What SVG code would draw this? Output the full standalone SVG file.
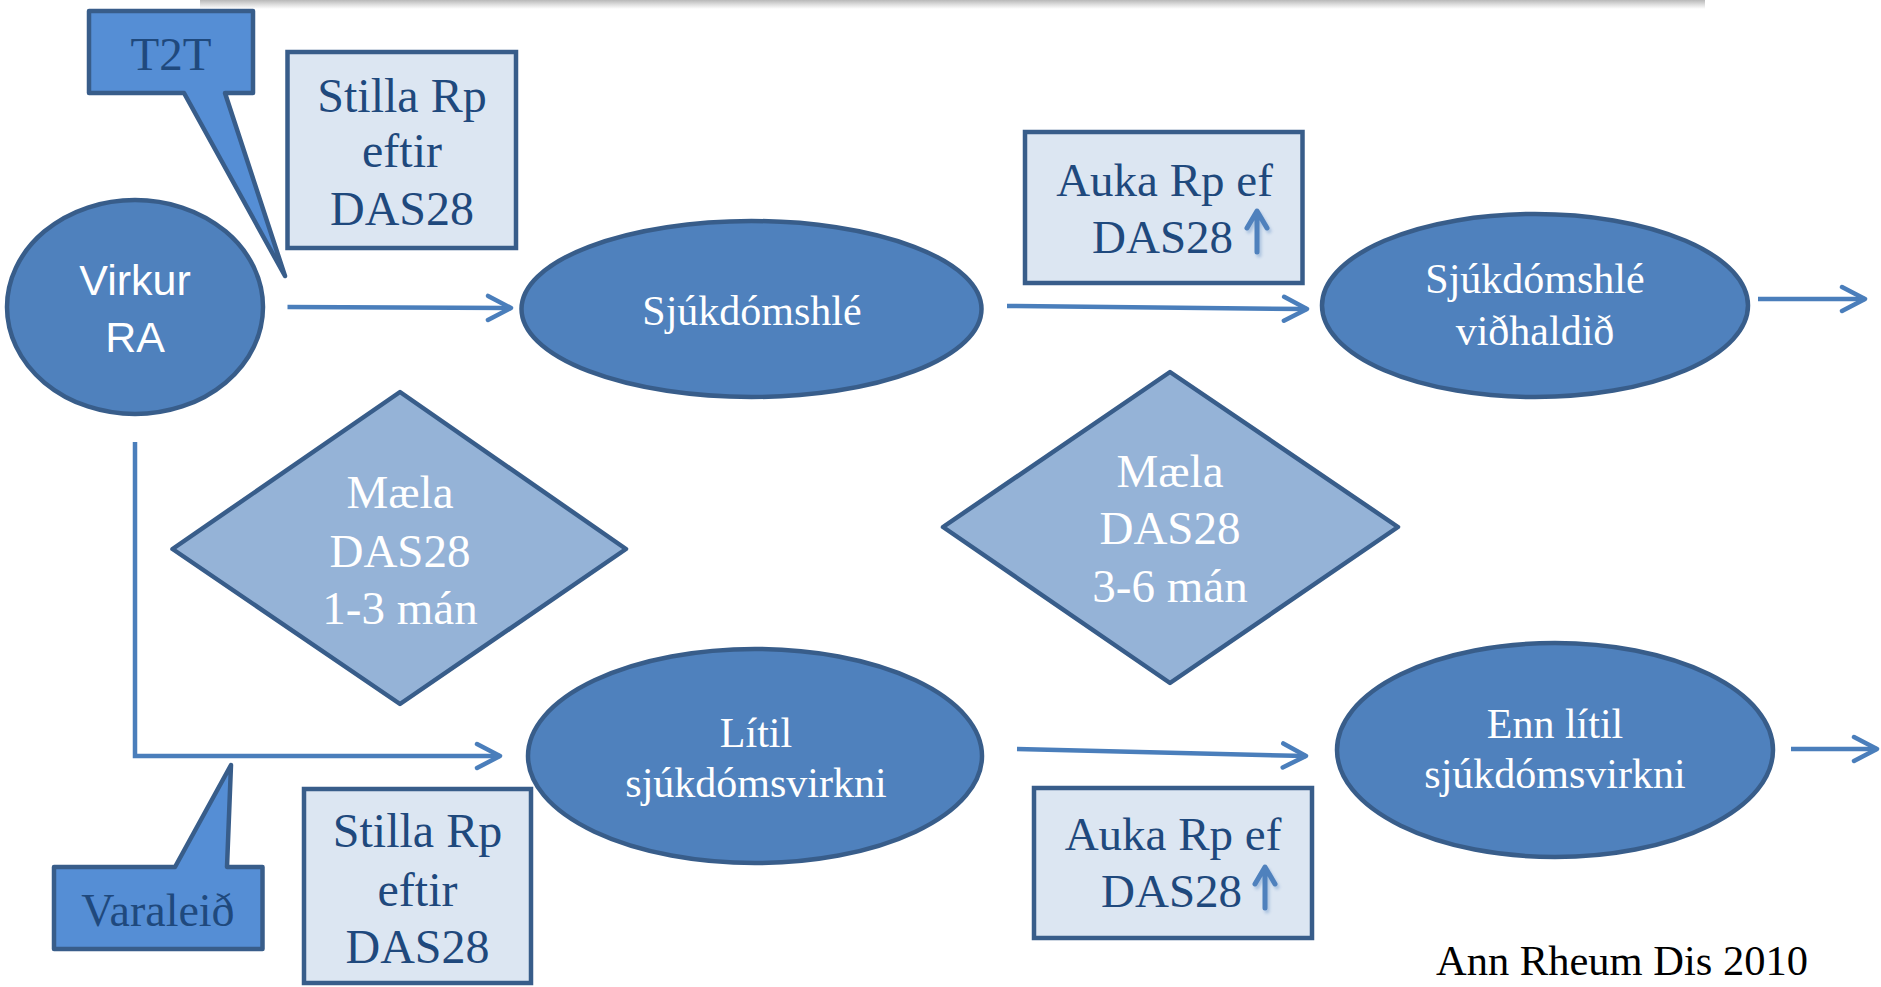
<svg xmlns="http://www.w3.org/2000/svg" width="1881" height="987" viewBox="0 0 1881 987">
<defs>
<linearGradient id="shade" x1="0" y1="0" x2="0" y2="1">
<stop offset="0" stop-color="#b8b8b8"/>
<stop offset="0.45" stop-color="#dadada"/>
<stop offset="1" stop-color="#ffffff"/>
</linearGradient>
<marker id="chev" viewBox="-28 -15 32 30" refX="0" refY="0" markerUnits="userSpaceOnUse" markerWidth="32" markerHeight="30" orient="auto">
<path d="M-23,-12 L0,0 L-23,12" fill="none" stroke="#4A7EBB" stroke-width="4.5" stroke-linecap="round" stroke-linejoin="round"/>
</marker>
<filter id="soft" x="-50%" y="-50%" width="200%" height="200%">
<feGaussianBlur stdDeviation="1.5"/>
</filter>
</defs>
<style>
.ell{fill:#4F81BD;stroke:#385D8A;stroke-width:4.5}
.dia{fill:#95B3D7;stroke:#385D8A;stroke-width:4.5;stroke-linejoin:round}
.box{fill:#DCE6F2;stroke:#385D8A;stroke-width:4.5}
.call{fill:#558ED5;stroke:#385D8A;stroke-width:4.5;stroke-linejoin:round}
.conn{fill:none;stroke:#4A7EBB;stroke-width:4.5}
.up{fill:none;stroke:#4F81BD;stroke-width:5;stroke-linecap:round;stroke-linejoin:round}
.serif{font-family:"Liberation Serif","Times New Roman",serif}
.sans{font-family:"Liberation Sans",Arial,sans-serif}
.wt{fill:#ffffff;text-anchor:middle}
.dk{fill:#1F497D;text-anchor:middle}
</style>
<rect width="1881" height="987" fill="#ffffff"/>
<rect x="200" y="0" width="1505" height="9" fill="url(#shade)"/>

<g id="connectors">
<path class="conn" d="M287.5,307 L511,308" marker-end="url(#chev)"/>
<path class="conn" d="M1007,306 L1307,309" marker-end="url(#chev)"/>
<path class="conn" d="M1758,299 L1865,299" marker-end="url(#chev)"/>
<path class="conn" d="M135,442 L135,756 L500,756" marker-end="url(#chev)"/>
<path class="conn" d="M1017,749 L1306,756" marker-end="url(#chev)"/>
<path class="conn" d="M1791,749 L1877,749" marker-end="url(#chev)"/>
</g>

<g id="virkur-ra">
<ellipse class="ell" cx="135" cy="307" rx="128" ry="107"/>
<text class="sans wt" font-size="43" x="135" y="295">Virkur</text>
<text class="sans wt" font-size="43" x="135" y="352">RA</text>
</g>

<g id="t2t">
<path class="call" d="M89,11 H253 V93 H225 L285,276 L184,93 H89 Z"/>
<text class="serif dk" font-size="47" x="171" y="70">T2T</text>
</g>

<g id="stilla-1">
<rect class="box" x="287.5" y="52" width="228.5" height="196"/>
<text class="serif dk" font-size="48" x="402" y="112">Stilla Rp</text>
<text class="serif dk" font-size="48" x="402" y="167">eftir</text>
<text class="serif dk" font-size="48" x="402" y="225">DAS28</text>
</g>

<g id="sjukdomshle">
<ellipse class="ell" cx="751.5" cy="309" rx="230" ry="88"/>
<text class="serif wt" font-size="42" x="752" y="325">Sjúkdómshlé</text>
</g>

<g id="auka-1">
<rect class="box" x="1025" y="132" width="277.5" height="151"/>
<text class="serif dk" font-size="47" x="1164.5" y="196">Auka Rp ef</text>
<text class="serif" font-size="47" fill="#1F497D" x="1092" y="253">DAS28</text>
<g opacity="0.35" filter="url(#soft)" transform="translate(2,3)">
<path class="up" d="M1257,252 V212 M1247,228 L1257,211 L1267,228" stroke="#555"/>
</g>
<path class="up" d="M1257,252 V212 M1247,228 L1257,211 L1267,228"/>
</g>

<g id="sjukdomshle-vidhaldid">
<ellipse class="ell" cx="1535" cy="305.5" rx="213" ry="91.5"/>
<text class="serif wt" font-size="42" x="1535" y="293">Sjúkdómshlé</text>
<text class="serif wt" font-size="42" x="1535" y="345">viðhaldið</text>
</g>

<g id="maela-1">
<path class="dia" d="M400,392 L626,549 L400,704 L172.5,549 Z"/>
<text class="serif wt" font-size="47" x="400" y="508">Mæla</text>
<text class="serif wt" font-size="47" x="400" y="567">DAS28</text>
<text class="serif wt" font-size="47" x="400" y="624">1-3 mán</text>
</g>

<g id="maela-2">
<path class="dia" d="M1170,372 L1398,527 L1170,683 L943,527 Z"/>
<text class="serif wt" font-size="47" x="1170" y="487">Mæla</text>
<text class="serif wt" font-size="47" x="1170" y="544">DAS28</text>
<text class="serif wt" font-size="47" x="1170" y="602">3-6 mán</text>
</g>

<g id="litil">
<ellipse class="ell" cx="755" cy="756" rx="227" ry="107"/>
<text class="serif wt" font-size="42" x="756" y="747">Lítil</text>
<text class="serif wt" font-size="42" x="756" y="797">sjúkdómsvirkni</text>
</g>

<g id="varaleid">
<path class="call" d="M54,867 H175 L231,765 L227,867 H262.5 V949 H54 Z"/>
<text class="serif dk" font-size="46" x="158" y="926">Varaleið</text>
</g>

<g id="stilla-2">
<rect class="box" x="304" y="789" width="227" height="194"/>
<text class="serif dk" font-size="48" x="417.5" y="847">Stilla Rp</text>
<text class="serif dk" font-size="48" x="417.5" y="906">eftir</text>
<text class="serif dk" font-size="48" x="417.5" y="963">DAS28</text>
</g>

<g id="auka-2">
<rect class="box" x="1034" y="788" width="278" height="150"/>
<text class="serif dk" font-size="47" x="1173" y="850">Auka Rp ef</text>
<text class="serif" font-size="47" fill="#1F497D" x="1101" y="907">DAS28</text>
<g opacity="0.35" filter="url(#soft)" transform="translate(2,3)">
<path class="up" d="M1265,908 V868 M1255,884 L1265,867 L1275,884" stroke="#555"/>
</g>
<path class="up" d="M1265,908 V868 M1255,884 L1265,867 L1275,884"/>
</g>

<g id="enn-litil">
<ellipse class="ell" cx="1555" cy="750" rx="218" ry="107"/>
<text class="serif wt" font-size="42" x="1555" y="738">Enn lítil</text>
<text class="serif wt" font-size="42" x="1555" y="788">sjúkdómsvirkni</text>
</g>

<g id="citation">
<text class="serif" font-size="42.5" fill="#000000" x="1436" y="975">Ann Rheum Dis 2010</text>
</g>
</svg>
